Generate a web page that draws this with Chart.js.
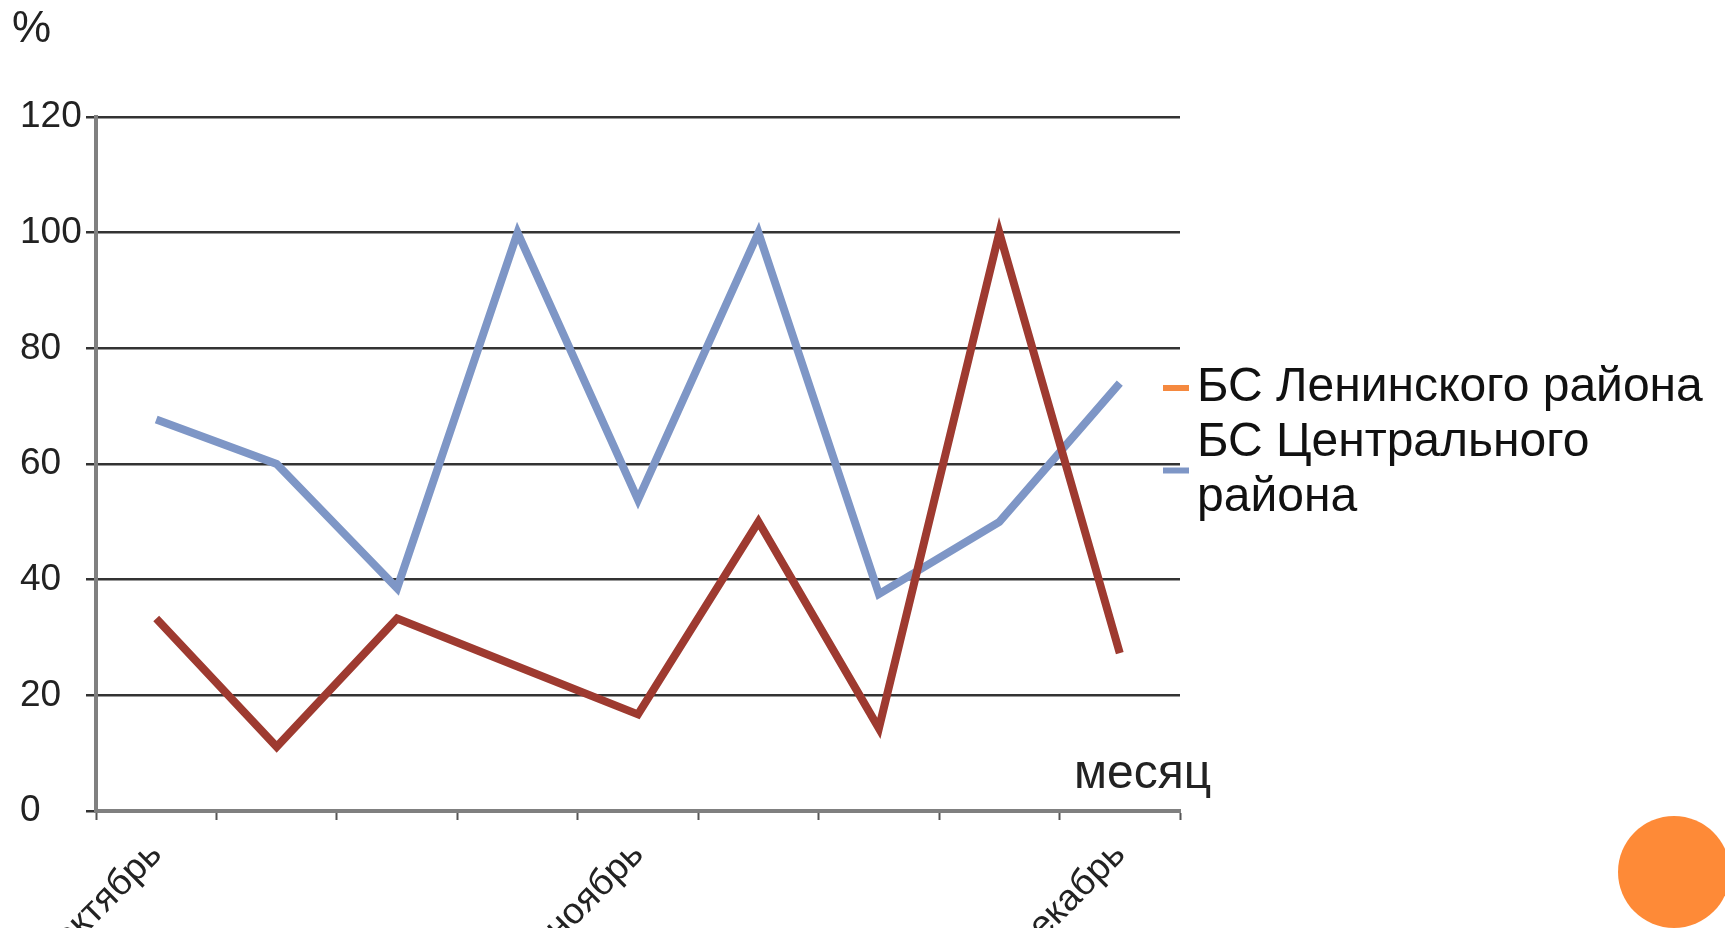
<!DOCTYPE html>
<html>
<head>
<meta charset="utf-8">
<script src="https://cdn.jsdelivr.net/npm/chart.js@4/dist/chart.umd.min.js"></script>
<style>
  html, body { margin: 0; padding: 0; background: #ffffff; overflow: hidden; }
  canvas { display: block; }
</style>
</head>
<body>
<canvas id="c" width="1725" height="928"></canvas>
<script>
// Tick labels along the month axis (only every fourth one is printed)
const monthLabels = ["октябрь", "", "", "", "ноябрь", "", "", "", "декабрь"];

// Series names
const seriesNames = ["БС Ленинского района", "БС Центрального района"];

// Values, %
const leninskyValues = [33.3, 11.1, 33.3, 25, 16.7, 50, 14.3, 100, 27.3];
const centralValues = [67.7, 60, 38.5, 100, 53.8, 100, 37.5, 50, 74];

// Y axis tick values
const yTicks = [0, 20, 40, 60, 80, 100, 120];

const FONT = "'Liberation Sans', Arial, sans-serif";
const lineColors = ["#9e3a30", "#7e96c6"];
const swatchColors = ["#f5893f", "#7e96c6"];

// Legend on the right, with wrapped labels, plus axis captions and the corner dot
const decorations = {
  id: "decorations",
  afterDraw(chart) {
    const ctx = chart.ctx;
    const area = chart.chartArea;
    ctx.save();

    // axis captions
    ctx.fillStyle = "#222";
    ctx.font = "44px " + FONT;
    ctx.textAlign = "left";
    ctx.textBaseline = "middle";
    ctx.fillText("%", 12, 30);
    ctx.font = "48px " + FONT;
    ctx.fillText("месяц", area.right - 106, area.bottom - 36);

    // legend
    const x0 = area.right - 17;
    const textX = x0 + 34;
    const maxW = 1725 - textX - 8;
    const lineH = 55;
    let y = 388;
    ctx.font = "48px " + FONT;
    chart.data.datasets.forEach((ds, i) => {
      const words = ds.label.split(" ");
      const lines = [];
      let cur = "";
      words.forEach(w => {
        const test = cur ? cur + " " + w : w;
        if (ctx.measureText(test).width > maxW && cur) { lines.push(cur); cur = w; }
        else cur = test;
      });
      if (cur) lines.push(cur);
      const midY = y + (lines.length - 1) * lineH / 2;
      ctx.strokeStyle = swatchColors[i];
      ctx.lineWidth = 6;
      ctx.beginPath();
      ctx.moveTo(x0, midY);
      ctx.lineTo(x0 + 26, midY);
      ctx.stroke();
      ctx.fillStyle = "#111";
      lines.forEach((ln, k) => ctx.fillText(ln, textX, y + k * lineH));
      y += lines.length * lineH;
    });

    // decorative dot in the corner
    ctx.fillStyle = "#fe8a37";
    ctx.beginPath();
    ctx.arc(1674, 872, 56, 0, Math.PI * 2);
    ctx.fill();
    ctx.restore();
  }
};

new Chart(document.getElementById("c"), {
  type: "line",
  data: {
    labels: monthLabels,
    datasets: [
      {
        label: seriesNames[0],
        data: leninskyValues,
        borderColor: lineColors[0],
        backgroundColor: lineColors[0],
        borderWidth: 8,
        pointRadius: 0,
        tension: 0,
        fill: false
      },
      {
        label: seriesNames[1],
        data: centralValues,
        borderColor: lineColors[1],
        backgroundColor: lineColors[1],
        borderWidth: 8,
        pointRadius: 0,
        tension: 0,
        fill: false
      }
    ]
  },
  options: {
    responsive: false,
    animation: false,
    devicePixelRatio: 1,
    layout: { padding: { left: 20, right: 545, top: 117, bottom: 0 } },
    plugins: {
      legend: { display: false },
      tooltip: { enabled: false }
    },
    scales: {
      x: {
        type: "category",
        offset: true,
        afterFit(scale) { scale.height = 117; },
        grid: {
          offset: true,
          drawOnChartArea: false,
          drawTicks: true,
          tickLength: 9,
          tickWidth: 2,
          tickColor: "#555"
        },
        border: { display: true, color: "#808080", width: 4 },
        ticks: {
          autoSkip: false,
          maxRotation: 45,
          minRotation: 45,
          padding: 13,
          color: "#222",
          font: { family: FONT, size: 37 }
        }
      },
      y: {
        min: 0,
        max: 120,
        afterFit(scale) { scale.width = 76; },
        afterBuildTicks(scale) { scale.ticks = yTicks.map(v => ({ value: v })); },
        grid: {
          color: "#333",
          lineWidth: 2.5,
          drawTicks: true,
          tickLength: 10,
          tickColor: "#333"
        },
        border: { display: true, color: "#808080", width: 4 },
        ticks: {
          padding: 4,
          crossAlign: "far",
          color: "#222",
          font: { family: FONT, size: 37 }
        }
      }
    }
  },
  plugins: [decorations]
});
</script>
</body>
</html>
